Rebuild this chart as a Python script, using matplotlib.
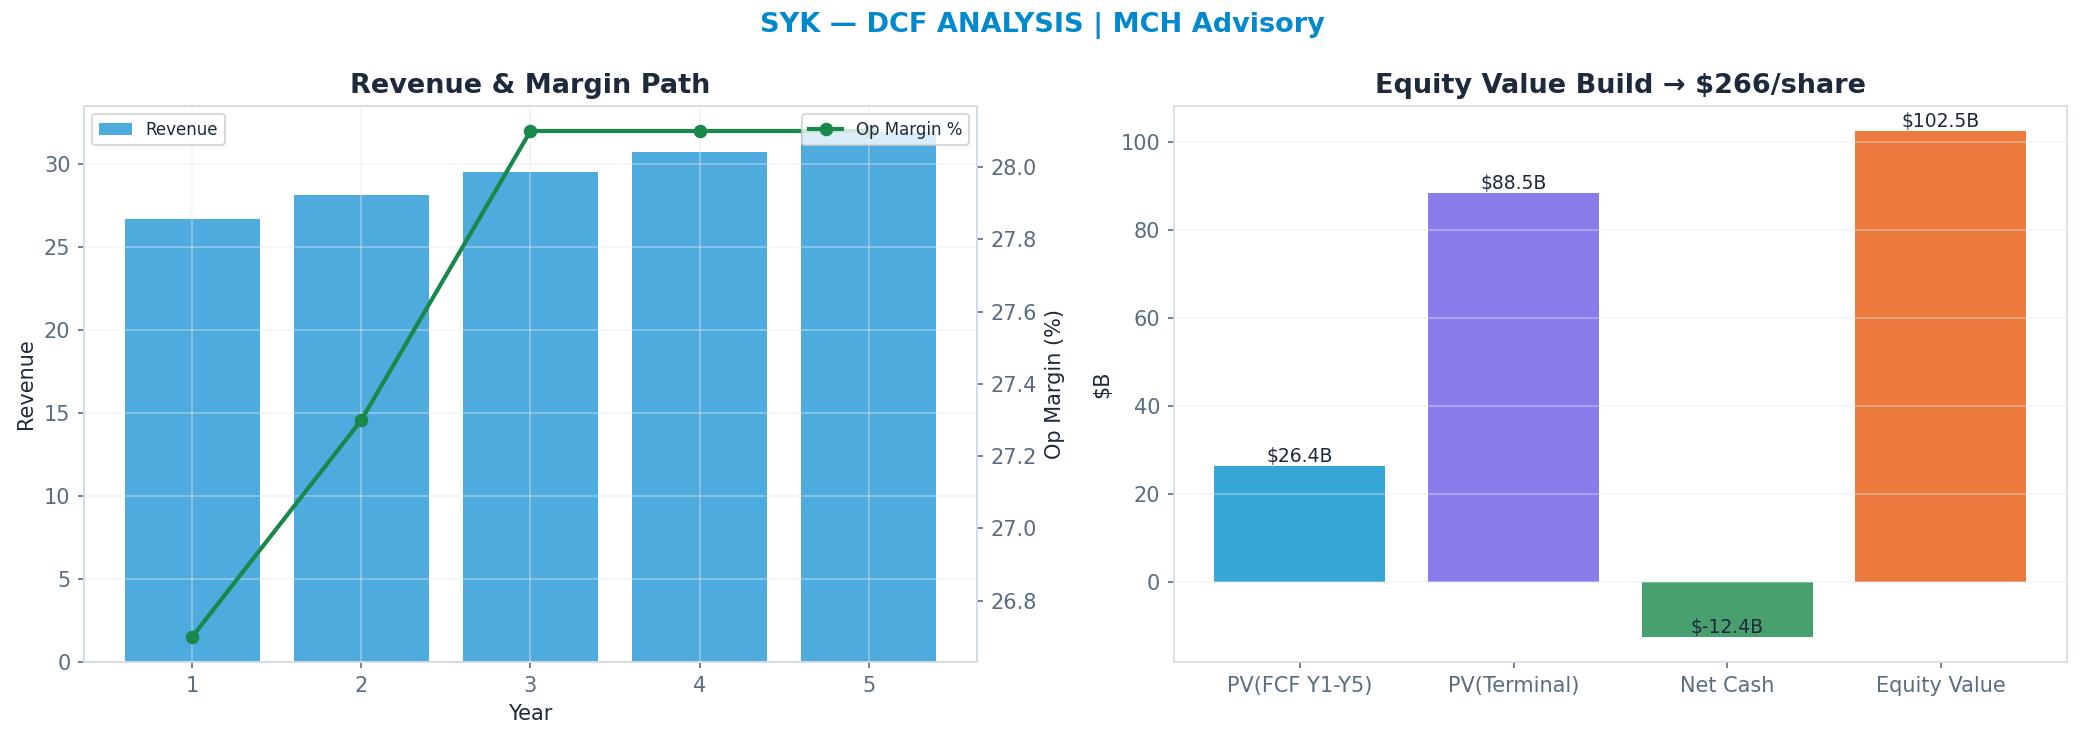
import matplotlib
matplotlib.use("Agg")
import matplotlib.pyplot as plt
import numpy as np

# data
years = [1, 2, 3, 4, 5]
revenue = [26.7, 28.1, 29.5, 30.7, 31.9]
op_margin = [26.7, 27.3, 28.1, 28.1, 28.1]

bridge_labels = ["PV(FCF Y1-Y5)", "PV(Terminal)", "Net Cash", "Equity Value"]
bridge_values = [26.4, 88.5, -12.4, 102.5]
bridge_colors = ["#0290cc", "#6c5ce7", "#1a884a", "#e8590c"]

DARK = "#1e293b"
TICK = "#5b6b80"
SPINE = "#d3dbe5"

plt.rcParams["font.family"] = "DejaVu Sans"
plt.rcParams["axes.edgecolor"] = SPINE
plt.rcParams["xtick.color"] = TICK
plt.rcParams["ytick.color"] = TICK
plt.rcParams["xtick.labelsize"] = 10
plt.rcParams["ytick.labelsize"] = 10
plt.rcParams["axes.labelcolor"] = DARK
plt.rcParams["axes.labelsize"] = 10

fig, (ax1, ax3) = plt.subplots(1, 2, figsize=(2084 / 150, 742 / 150), dpi=150)
fig.subplots_adjust(left=0.0403, right=0.9918, bottom=0.1078, top=0.8575, wspace=0.2205)

fig.suptitle("SYK — DCF ANALYSIS | MCH Advisory", fontsize=13, fontweight="bold",
             color="#0288cc", y=0.965, va="center")

# left: revenue bars + margin line
ax1.bar(years, revenue, width=0.8, color="#0288d1", alpha=0.7, label="Revenue")
ax1.set_xlabel("Year")
ax1.set_ylabel("Revenue")
ax1.set_title("Revenue & Margin Path", fontsize=13, fontweight="bold", color=DARK)
ax1.grid(True, color="#e2e8f0", alpha=0.45, linewidth=0.8)
ax1.tick_params(length=3)
leg1 = ax1.legend(loc="upper left", fontsize=8, edgecolor="#d0d0d0")
for t in leg1.get_texts():
    t.set_color(DARK)

ax2 = ax1.twinx()
ax2.plot(years, op_margin, color="#1a884a", linewidth=2, marker="o", markersize=5.5,
         label="Op Margin %")
ax2.set_ylabel("Op Margin (%)")
ax2.grid(False)
ax2.tick_params(length=3)
for s in ax2.spines.values():
    s.set_color(SPINE)
leg2 = ax2.legend(loc="upper right", fontsize=8, edgecolor="#d0d0d0")
for t in leg2.get_texts():
    t.set_color(DARK)

# right: equity bridge
x = np.arange(len(bridge_labels))
ax3.bar(x, bridge_values, width=0.8, color=bridge_colors, alpha=0.8)
for xi, v in zip(x, bridge_values):
    ax3.text(xi, v, f"${v:.1f}B", ha="center", va="bottom", fontsize=9, color=DARK)
ax3.set_xticks(x)
ax3.set_xticklabels(bridge_labels)
ax3.set_ylabel("$B")
ax3.set_title("Equity Value Build → $266/share", fontsize=13, fontweight="bold", color=DARK)
ax3.grid(True, axis="y", color="#e2e8f0", alpha=0.45, linewidth=0.8)
ax3.tick_params(length=3)

fig.savefig("out.png", dpi=150)
